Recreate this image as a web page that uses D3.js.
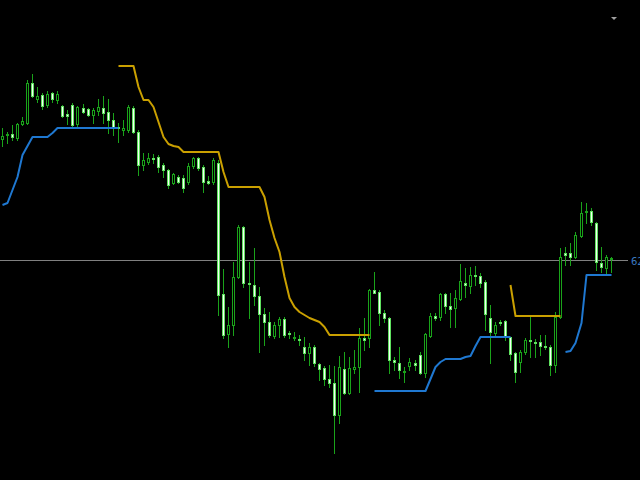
<!DOCTYPE html>
<html>
<head>
<meta charset="utf-8">
<script src="https://cdn.jsdelivr.net/npm/d3@7"></script>
<style>
html,body{margin:0;padding:0;background:#000;overflow:hidden;}
svg{display:block;}
</style>
</head>
<body>
<svg id="chart" width="640" height="480"></svg>
<script>
// ---- DATA ----
const opens = [63.81,63.85,63.86,63.82,63.96,63.97,64.37,64.21,64.25,64.15,
64.27,64.20,64.14,64.06,64.15,63.96,64.12,64.11,64.05,64.09,
64.12,64.08,64.00,63.93,63.90,63.90,64.12,63.88,63.55,63.58,
63.62,63.63,63.55,63.50,63.37,63.43,63.42,63.38,63.54,63.62,
63.53,63.39,63.38,63.57,62.26,61.86,61.95,62.43,62.93,62.37,
62.35,62.24,62.06,61.98,61.84,61.95,62.01,61.87,61.82,61.81,
61.73,61.67,61.73,61.56,61.52,61.41,61.37,61.05,61.51,61.27,
61.51,61.53,61.82,61.82,62.30,62.28,62.07,62.02,61.60,61.57,
61.48,61.54,61.57,61.65,61.47,61.84,62.04,62.03,62.26,62.14,
62.12,62.21,62.37,62.34,62.45,62.44,62.38,62.02,61.87,61.98,
61.99,61.83,61.67,61.58,61.68,61.80,61.78,61.78,61.74,61.73,
61.55,62.03,62.67,62.67,62.63,62.84,63.08,63.09,62.97,62.57,
62.52,62.61];
const highs = [63.92,63.88,63.95,63.97,64.03,64.40,64.46,64.33,64.27,64.29,
64.28,64.29,64.15,64.10,64.17,64.14,64.16,64.12,64.12,64.21,
64.24,64.21,64.07,63.97,64.00,64.15,64.14,63.90,63.67,63.67,
63.66,63.65,63.57,63.51,63.47,63.45,63.45,63.57,63.63,63.63,
63.55,63.44,63.62,63.60,62.51,62.13,62.58,62.95,62.94,62.58,
62.72,62.33,62.12,62.08,61.98,62.03,62.03,61.89,61.88,61.85,
61.83,61.77,61.75,61.57,61.54,61.55,61.54,61.64,61.68,61.63,
61.70,61.92,62.02,62.31,62.48,62.30,62.10,62.03,61.63,61.73,
61.53,61.62,61.60,61.68,61.87,62.07,62.07,62.27,62.27,62.27,
62.30,62.56,62.52,62.53,62.54,62.47,62.40,62.15,61.98,62.00,
62.00,61.83,61.68,61.70,61.82,62.03,61.81,61.85,61.85,61.75,
62.08,62.72,62.73,62.77,62.88,63.18,63.17,63.12,62.98,62.73,
62.65,62.63];
const lows = [63.74,63.77,63.80,63.80,63.95,63.96,64.23,64.18,64.11,64.13,
64.18,64.17,64.03,63.96,63.94,63.92,64.07,64.04,63.97,64.05,
63.97,63.87,63.85,63.78,63.85,63.88,63.87,63.45,63.50,63.56,
63.57,63.48,63.43,63.32,63.36,63.37,63.28,63.36,63.52,63.50,
63.28,63.36,63.36,62.05,61.82,61.73,61.85,62.42,62.33,62.02,
62.15,61.68,61.75,61.83,61.82,61.83,61.83,61.82,61.80,61.75,
61.60,61.55,61.54,61.40,61.35,61.33,60.67,60.97,61.26,61.26,
61.47,61.28,61.70,61.73,62.27,61.95,61.98,61.47,61.50,61.42,
61.38,61.50,61.50,61.46,61.43,61.83,62.00,62.00,62.07,61.93,
61.93,62.20,62.23,62.27,62.35,62.33,61.90,61.57,61.85,61.95,
61.80,61.60,61.38,61.48,61.66,61.63,61.63,61.65,61.71,61.45,
61.48,62.02,62.55,62.55,62.62,62.83,62.97,62.95,62.50,62.48,
62.45,62.48];
const closes = [63.84,63.86,63.83,63.96,63.99,64.37,64.24,64.24,64.14,64.26,
64.21,64.26,64.04,64.04,63.95,64.13,64.08,64.05,64.10,64.13,
64.07,64.00,63.93,63.92,63.92,64.13,63.88,63.55,63.60,63.62,
63.61,63.53,63.50,63.35,63.46,63.38,63.32,63.54,63.62,63.52,
63.38,63.37,63.60,62.25,61.85,61.95,62.43,62.93,62.37,62.36,
62.24,62.06,61.98,61.85,61.95,62.01,61.85,61.86,61.83,61.80,
61.67,61.73,61.57,61.51,61.41,61.37,61.05,61.53,61.27,61.52,
61.53,61.82,61.80,62.30,62.27,62.07,62.02,61.60,61.58,61.50,
61.49,61.58,61.55,61.47,61.86,62.04,62.02,62.26,62.14,62.11,
62.22,62.39,62.35,62.45,62.44,62.37,62.06,61.88,61.95,61.97,
61.83,61.66,61.48,61.68,61.80,61.79,61.77,61.74,61.73,61.55,
62.03,62.63,62.65,62.63,62.85,63.07,63.09,62.98,62.58,62.53,
62.63,62.62];
// upper (resistance) trailing line; null where not shown
const upperLine = [null,null,null,null,null,null,null,null,null,null,
null,null,null,null,null,null,null,null,null,null,
null,null,null,64.54,64.54,64.54,64.54,64.33,64.20,64.20,
64.13,63.98,63.83,63.76,63.74,63.73,63.68,63.68,63.68,63.68,
63.68,63.68,63.68,63.68,63.48,63.33,63.33,63.33,63.33,63.33,
63.33,63.33,63.23,63.00,62.82,62.68,62.43,62.22,62.13,62.08,
62.05,62.02,62.00,61.98,61.93,61.85,61.85,61.85,61.85,61.85,
61.85,61.85,61.85,61.85,null,null,null,null,null,null,
null,null,null,null,null,null,null,null,null,null,
null,null,null,null,null,null,null,null,null,null,
null,62.35,62.04,62.04,62.04,62.04,62.04,62.04,62.04,62.04,
62.04,62.04,null,null,null,null,null,null,null,null,
null,null];
// lower (support) trailing line
const lowerLine = [63.15,63.17,63.30,63.43,63.65,63.74,63.83,63.83,63.83,63.83,
63.87,63.92,63.92,63.92,63.92,63.92,63.92,63.92,63.92,63.92,
63.92,63.92,63.92,63.92,null,null,null,null,null,null,
null,null,null,null,null,null,null,null,null,null,
null,null,null,null,null,null,null,null,null,null,
null,null,null,null,null,null,null,null,null,null,
null,null,null,null,null,null,null,null,null,null,
null,null,null,null,61.29,61.29,61.29,61.29,61.29,61.29,
61.29,61.29,61.29,61.29,61.29,61.41,61.53,61.58,61.61,61.61,
61.61,61.61,61.63,61.64,61.74,61.83,61.83,61.83,61.83,61.83,
61.83,61.83,null,null,null,null,null,null,null,null,
null,null,61.68,61.69,61.77,61.97,62.45,62.45,62.45,62.45,
62.45,62.45];
const currentPrice = 62.60;
const priceLabel = "62.60";

// ---- SCALES ----
const n = closes.length;
const idx = d3.range(n);
const svg = d3.select("#chart");
const x = d3.scaleBand().domain(idx).range([-0.5, 613.2]);
const cx = i => Math.round(x(i) + x.bandwidth() / 2);
const y = d3.scaleLinear().domain([65.20, 60.40]).range([0, 480]);

svg.append("rect").attr("width", 640).attr("height", 480).attr("fill", "#000");

// current price line
svg.append("rect").attr("x", 0).attr("y", Math.round(y(currentPrice)))
  .attr("width", 628).attr("height", 1).attr("fill", "#808080");
svg.append("text").attr("x", 631).attr("y", Math.round(y(currentPrice)) + 5)
  .attr("font-family", "DejaVu Sans, sans-serif").attr("font-size", 10)
  .attr("fill", "#3a78c0").text(priceLabel);

// small menu triangle top-right
svg.append("path").attr("d", "M611,17 L617,17 L614,20 Z").attr("fill", "#a0a0a0");

const wickColor = "#1aa31a";
const bearEdge = "#5fe05f";

const g = svg.append("g");
// wicks
g.selectAll("rect.wick").data(idx).join("rect").attr("class", "wick")
  .attr("x", i => cx(i))
  .attr("y", i => Math.round(y(highs[i])))
  .attr("width", 1)
  .attr("height", i => Math.max(1, Math.round(y(lows[i])) - Math.round(y(highs[i])) + 1))
  .attr("fill", wickColor);

// bodies
const bodyTop = i => Math.round(y(Math.max(opens[i], closes[i])));
const bodyH = i => Math.max(1, Math.round(y(Math.min(opens[i], closes[i]))) - bodyTop(i) + 1);
const bull = i => closes[i] > opens[i];

g.selectAll("rect.body").data(idx).join("rect").attr("class", "body")
  .attr("x", i => cx(i) - 1).attr("width", 3)
  .attr("y", bodyTop).attr("height", bodyH)
  .attr("fill", i => bull(i) ? wickColor : bearEdge);

g.selectAll("rect.inner").data(idx.filter(i => bodyH(i) > 2)).join("rect").attr("class", "inner")
  .attr("x", i => cx(i)).attr("width", 1)
  .attr("y", i => bodyTop(i) + 1).attr("height", i => bodyH(i) - 2)
  .attr("fill", i => bull(i) ? "#000" : "#f4fff4");

// trailing lines
const line = arr => d3.line()
  .defined(i => arr[i] !== null)
  .x(i => cx(i) + 0.5)
  .y(i => y(arr[i]))(idx);

svg.append("path").attr("d", line(upperLine)).attr("fill", "none")
  .attr("stroke", "#caa000").attr("stroke-width", 2).attr("stroke-linejoin", "round");
svg.append("path").attr("d", line(lowerLine)).attr("fill", "none")
  .attr("stroke", "#1f78d1").attr("stroke-width", 2).attr("stroke-linejoin", "round");
</script>
</body>
</html>
